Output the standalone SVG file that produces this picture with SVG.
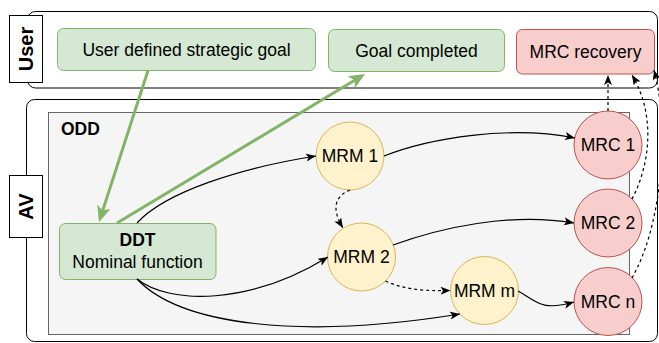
<svg xmlns="http://www.w3.org/2000/svg" width="659" height="343" viewBox="0 0 659 343">
<style>
text{font-family:"Liberation Sans",Arial,Helvetica,sans-serif;font-size:17.5px;fill:#000;text-anchor:middle}
.b{font-weight:bold}
.lab{font-size:20px;font-weight:bold}
.cont{fill:#fff;stroke:#000;stroke-width:1}
.green{fill:#d5e8d4;stroke:#82b366;stroke-width:1}
.yellow{fill:#fff2cc;stroke:#d6b656;stroke-width:1}
.red{fill:#f8cecc;stroke:#b85450;stroke-width:1}
.odd{fill:#f5f5f5;stroke:#666666;stroke-width:1}
.e{fill:none;stroke:#000;stroke-width:1.2;marker-end:url(#ab)}
.d{stroke-dasharray:3 3}
.g{fill:none;stroke:#82b366;stroke-width:3;marker-end:url(#ag)}
</style>
<defs>
<marker id="ab" viewBox="0 0 10 8" refX="10" refY="4" markerWidth="10" markerHeight="8" markerUnits="userSpaceOnUse" orient="auto">
<path d="M0,0 L10,4 L0,8 L2.5,4 Z" fill="#000"/>
</marker>
<marker id="ag" viewBox="0 0 16 14" refX="4" refY="7" markerWidth="16" markerHeight="14" markerUnits="userSpaceOnUse" orient="auto">
<path d="M0,0 L16,7 L0,14 L4,7 Z" fill="#82b366"/>
</marker>
</defs>

<g id="user-lane">
<rect class="cont" x="27.5" y="11.5" width="630" height="76.5" rx="8"/>
<rect class="cont" x="9.5" y="15.5" width="33" height="67"/>
<text class="lab" transform="translate(25.5,49) rotate(-90)" x="0" y="7">User</text>
</g>
<g id="av-lane">
<rect class="cont" x="26.5" y="99.5" width="631" height="242" rx="8"/>
<rect class="cont" x="9.5" y="175.5" width="33" height="62"/>
<text class="lab" transform="translate(25.5,206.5) rotate(-90)" x="0" y="7">AV</text>
</g>
<g id="odd">
<rect class="odd" x="48.5" y="112.5" width="581" height="222"/>
<text class="b" x="61" y="135" style="text-anchor:start">ODD</text>
</g>

<g id="goal">
<rect class="green" x="57.5" y="28.5" width="258" height="42" rx="6"/>
<text x="186.5" y="56">User defined strategic goal</text>
</g>
<g id="completed">
<rect class="green" x="328.5" y="29.5" width="176" height="42" rx="6"/>
<text x="416.5" y="57">Goal completed</text>
</g>
<g id="recovery">
<rect class="red" x="516.5" y="29.5" width="138" height="44.5" rx="6"/>
<text x="585.5" y="58">MRC recovery</text>
</g>
<g id="ddt">
<rect class="green" x="59.5" y="223.5" width="156.5" height="56" rx="6"/>
<text class="b" x="137.5" y="246">DDT</text>
<text x="137.5" y="268">Nominal function</text>
</g>
<g id="mrm1">
<circle class="yellow" cx="350" cy="156" r="34"/>
<text x="350" y="162">MRM 1</text>
</g>
<g id="mrm2">
<circle class="yellow" cx="361.5" cy="257" r="34"/>
<text x="361.5" y="263">MRM 2</text>
</g>
<g id="mrmm">
<circle class="yellow" cx="484.5" cy="290.5" r="34"/>
<text x="484.5" y="296.5">MRM m</text>
</g>
<g id="mrc1">
<circle class="red" cx="608" cy="145" r="34"/>
<text x="608" y="151">MRC 1</text>
</g>
<g id="mrc2">
<circle class="red" cx="608" cy="223" r="34"/>
<text x="608" y="229">MRC 2</text>
</g>
<g id="mrcn">
<circle class="red" cx="608" cy="301.5" r="34"/>
<text x="608" y="307.5">MRC n</text>
</g>

<g id="connectors">
<path class="g" d="M148,70.5 L102.7,210.6"/>
<path class="g" d="M117,223 L354.7,80.2"/>
<path class="e" d="M137,223 C165,192 240,168 316,156"/>
<path class="e" d="M137,279 C170,305 250,305 328,257"/>
<path class="e" d="M137,279 C180,325 300,340 460,314"/>
<path class="e" d="M384,156 C430,138 510,125 575,138"/>
<path class="e" d="M393,245 C440,228 510,212 574,223"/>
<path class="e" d="M518,291 C535,300 540,312 574,302"/>
<path class="e d" d="M350,190 C330,198 335,215 343,228"/>
<path class="e d" d="M385.5,281 C405,290 425,291 450.5,290.5"/>
<path class="e d" d="M608,111 L608,75"/>
<path class="e d" d="M632,199 C650,165 656,115 632,75"/>
<path class="e d" d="M632,278 C665,220 668,120 654,70"/>
</g>
</svg>
